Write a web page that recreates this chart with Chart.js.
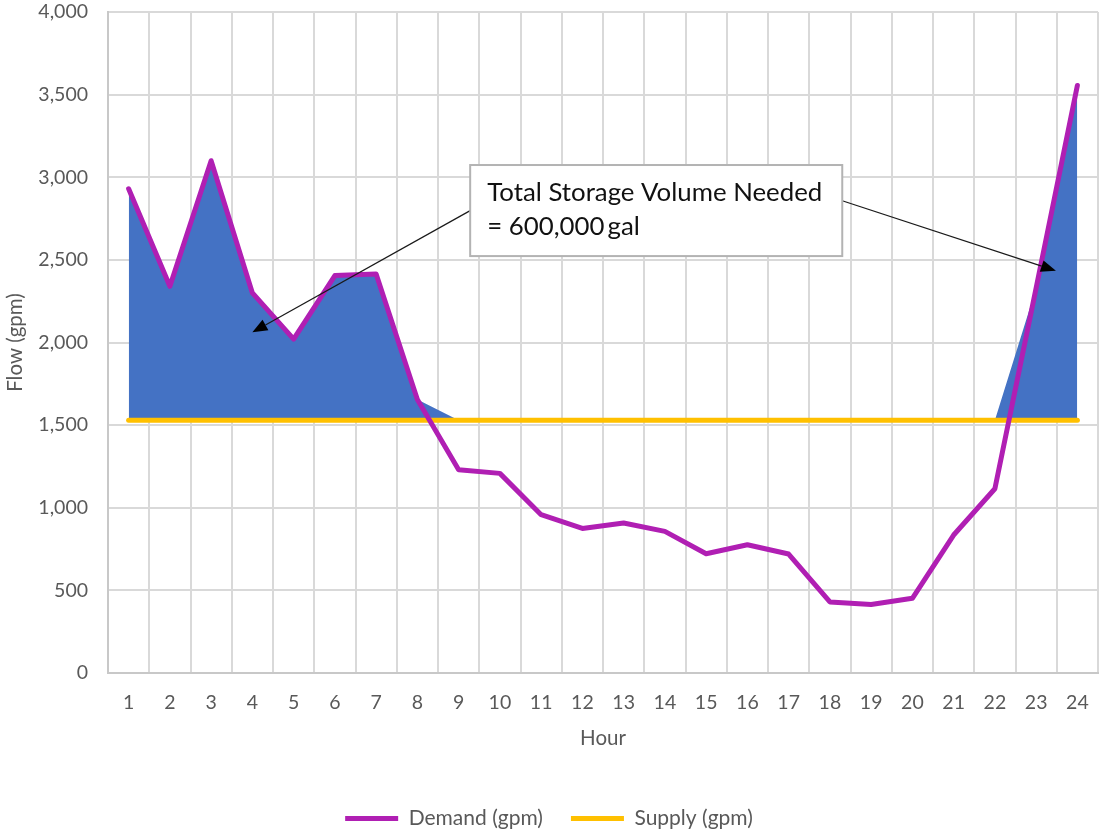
<!DOCTYPE html>
<html>
<head>
<meta charset="utf-8">
<title>Flow (gpm)</title>
<script src="https://cdn.jsdelivr.net/npm/chart.js@4.4.1/dist/chart.umd.min.js"></script>
<style>
  html, body { margin: 0; padding: 0; background: #fff; }
  #wrap { width: 1100px; height: 834px; }
</style>
</head>
<body>
<div id="wrap"><canvas id="flowChart" width="1100" height="834"></canvas></div>
<script>
// hourly flow data
const hours = [1, 2, 3, 4, 5, 6, 7, 8, 9, 10, 11, 12, 13, 14, 15, 16, 17, 18, 19, 20, 21, 22, 23, 24];
const demand = [2930, 2340, 3100, 2300, 2020, 2405, 2415, 1655, 1230, 1208, 958, 875, 908, 857, 722, 776, 720, 430, 415, 452, 835, 1115, 2330, 3555];
const supply = [1530, 1530, 1530, 1530, 1530, 1530, 1530, 1530, 1530, 1530, 1530, 1530, 1530, 1530, 1530, 1530, 1530, 1530, 1530, 1530, 1530, 1530, 1530, 1530];
// storage area: demand above supply, otherwise the supply level
const storage = demand.map((d, i) => Math.max(d, supply[i]));
const yTicks = [0, 500, 1000, 1500, 2000, 2500, 3000, 3500, 4000];

const noteLines = ["Total Storage Volume Needed", "= 600,000\u2009gal"];

const FONT = "Lato, 'Open Sans', sans-serif";
const GREY = "#595959";

// text box with two arrows
const notePlugin = {
  id: "storageNote",
  afterDatasetsDraw(chart) {
    const ctx = chart.ctx;
    const xs = chart.scales.x;
    const ys = chart.scales.y;
    const left = xs.getPixelForValue(8.28);
    const right = xs.getPixelForValue(17.3);
    const top = ys.getPixelForValue(3074);
    const bottom = ys.getPixelForValue(2523);

    const arrows = [
      { from: [left, ys.getPixelForValue(2798)], to: [xs.getPixelForValue(3.0), ys.getPixelForValue(2062)] },
      { from: [right, ys.getPixelForValue(2858)], to: [xs.getPixelForValue(22.48), ys.getPixelForValue(2434)] }
    ];

    ctx.save();
    ctx.strokeStyle = "#1a1a1a";
    ctx.fillStyle = "#000";
    ctx.lineWidth = 1.2;
    arrows.forEach(a => {
      const [x0, y0] = a.from;
      const [x1, y1] = a.to;
      const ang = Math.atan2(y1 - y0, x1 - x0);
      const len = 15, half = 6;
      const bx = x1 - len * Math.cos(ang), by = y1 - len * Math.sin(ang);
      ctx.beginPath();
      ctx.moveTo(x0, y0);
      ctx.lineTo(bx, by);
      ctx.stroke();
      ctx.beginPath();
      ctx.moveTo(x1, y1);
      ctx.lineTo(bx + half * Math.sin(ang), by - half * Math.cos(ang));
      ctx.lineTo(bx - half * Math.sin(ang), by + half * Math.cos(ang));
      ctx.closePath();
      ctx.fill();
    });

    ctx.fillStyle = "#fff";
    ctx.fillRect(left, top, right - left, bottom - top);
    ctx.strokeStyle = "#b3b3b3";
    ctx.lineWidth = 2;
    ctx.strokeRect(left, top, right - left, bottom - top);

    ctx.fillStyle = "#111";
    ctx.font = "25.8px " + FONT;
    ctx.textBaseline = "alphabetic";
    ctx.textAlign = "left";
    ctx.fillText(noteLines[0], left + 17, top + 36);
    ctx.fillText(noteLines[1], left + 17, top + 69.5);
    ctx.restore();
  }
};

const ctx = document.getElementById("flowChart").getContext("2d");
const flowChart = new Chart(ctx, {
  type: "line",
  data: {
    labels: hours,
    datasets: [
      {
        label: "Demand (gpm)",
        data: demand,
        borderColor: "#B01FB3",
        backgroundColor: "#B01FB3",
        borderWidth: 5,
        borderCapStyle: "round",
        borderJoinStyle: "round",
        pointRadius: 0,
        fill: false,
        tension: 0
      },
      {
        label: "Supply (gpm)",
        data: supply,
        borderColor: "#FFC000",
        backgroundColor: "#FFC000",
        borderWidth: 5,
        borderCapStyle: "round",
        borderJoinStyle: "round",
        pointRadius: 0,
        fill: false,
        tension: 0
      },
      {
        label: "Storage",
        data: storage,
        borderWidth: 0,
        borderColor: "rgba(0,0,0,0)",
        backgroundColor: "#4472C4",
        pointRadius: 0,
        fill: { target: 1, above: "#4472C4", below: "rgba(0,0,0,0)" },
        tension: 0
      }
    ]
  },
  options: {
    responsive: false,
    animation: false,
    events: [],
    layout: { padding: { top: 12, right: 2, left: 0, bottom: -5 } },
    scales: {
      x: {
        type: "category",
        offset: true,
        grid: { offset: true, color: "#D9D9D9", lineWidth: 2, drawTicks: false },
        border: { color: "#C8C8C8", width: 2 },
        ticks: { color: GREY, font: { family: FONT, size: 19.5 }, padding: 18, maxRotation: 0, autoSkip: false },
        title: { display: true, text: "Hour", color: GREY, font: { family: FONT, size: 20.5 }, padding: { top: 0, bottom: 29 } },
        afterFit(scale) {
          scale.height = 107;
          scale.paddingLeft = 0;
          scale.paddingRight = 0;
        }
      },
      y: {
        min: 0,
        max: 4000,
        afterBuildTicks(scale) { scale.ticks = yTicks.map(v => ({ value: v })); },
        grid: { color: "#D9D9D9", lineWidth: 2, drawTicks: false },
        border: { color: "#C8C8C8", width: 2 },
        ticks: {
          color: GREY,
          font: { family: FONT, size: 19.5 },
          padding: 20,
          callback: v => v.toLocaleString("en-US")
        },
        title: { display: true, text: "Flow (gpm)", color: GREY, font: { family: FONT, size: 20.5 }, padding: { top: 3, bottom: 0 } },
        afterFit(scale) {
          scale.width = 108;
          scale.paddingTop = 0;
          scale.paddingBottom = 0;
        }
      }
    },
    plugins: {
      tooltip: { enabled: false },
      legend: {
        display: true,
        position: "bottom",
        labels: {
          filter: item => item.datasetIndex < 2,
          usePointStyle: true,
          pointStyle: "line",
          pointStyleWidth: 53,
          color: GREY,
          font: { family: FONT, size: 21 },
          padding: 28
        }
      }
    }
  },
  plugins: [notePlugin]
});
</script>
</body>
</html>
